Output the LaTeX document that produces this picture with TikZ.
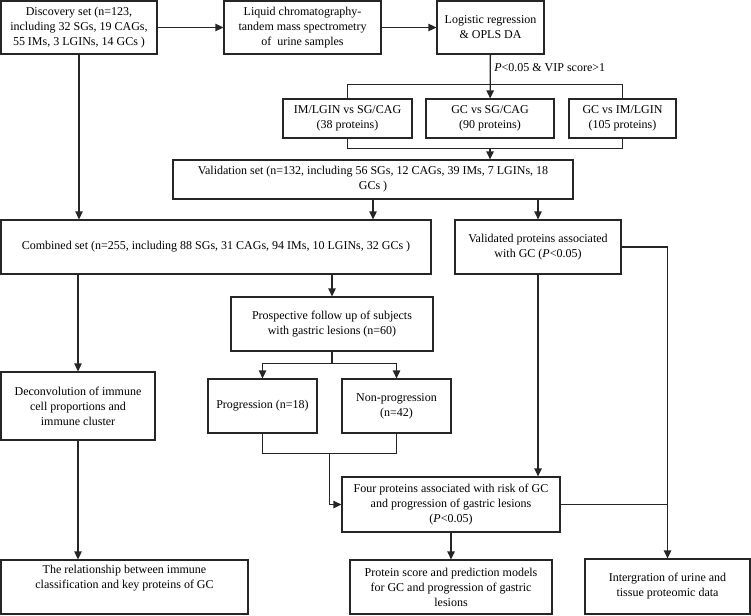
\documentclass[tikz,border=0pt]{standalone}
\usepackage{fontspec}
\setmainfont{Liberation Serif}
\usetikzlibrary{arrows.meta}

\begin{document}
\begin{tikzpicture}[->,>={Triangle[length=8pt,width=7.5pt]},x=1pt,y=-1pt,line width=1.3pt,draw=black!85]
    \tikzstyle{block}=[draw,rectangle,align=center,inner sep=0pt,font=\fontsize{12}{15}\selectfont]
    \useasboundingbox (0,0) rectangle (751,615);
    \node[block,minimum width=156,minimum height=53] (A) at (79,27.5) {Discovery set (n=123,\\ including 32 SGs, 19 CAGs,\\ 55 IMs, 3 LGINs, 14 GCs )};
    \node[block,minimum width=157,minimum height=53] (B) at (302.5,27.5) {Liquid chromatography-\\ tandem mass spectrometry\\ of\ \ urine samples};
    \node[block,minimum width=107,minimum height=53] (C) at (490.5,27.5) {Logistic regression\\ \& OPLS DA};
    \node[block,minimum width=129,minimum height=39] (D) at (347.5,118.5) {IM/LGIN vs SG/CAG\\ (38 proteins)};
    \node[block,minimum width=128,minimum height=39] (E) at (490,118.5) {GC vs SG/CAG\\ (90 proteins)};
    \node[block,minimum width=107,minimum height=39] (F) at (622.5,118.5) {GC vs IM/LGIN\\ (105 proteins)};
    \node[block,minimum width=400,minimum height=39] (G) at (373,179.5) {Validation set (n=132, including 56 SGs, 12 CAGs, 39 IMs, 7 LGINs, 18\\ GCs )};
    \node[block,minimum width=430,minimum height=54] (H) at (216,247) {Combined set (n=255, including 88 SGs, 31 CAGs, 94 IMs, 10 LGINs, 32 GCs )};
    \node[block,minimum width=166,minimum height=54] (I) at (538,247) {Validated proteins associated\\ with GC (\textit{P}<0.05)};
    \node[block,minimum width=202,minimum height=54] (J) at (332,324) {Prospective follow up of subjects\\ with gastric lesions (n=60)};
    \node[block,minimum width=109,minimum height=54] (K) at (262.5,406) {Progression (n=18)};
    \node[block,minimum width=109,minimum height=54] (L) at (396.5,406) {Non-progression\\ (n=42)};
    \node[block,minimum width=154,minimum height=68] (M) at (78,406) {Deconvolution of immune\\ cell proportions and\\ immune cluster};
    \node[block,minimum width=218,minimum height=55] (N) at (451,504.5) {Four proteins associated with risk of GC\\ and progression of gastric lesions\\ (\textit{P}<0.05)};
    \node[block,minimum width=202,minimum height=54] (O) at (451,587) {Protein score and prediction models\\ for GC and progression of gastric\\ lesions};
    \node[block,minimum width=165,minimum height=55] (P) at (667.5,586.5) {Intergration of urine and\\ tissue proteomic data};
    \node[block,minimum width=247,minimum height=54] (Q) at (124.5,587) {The relationship between immune\\ classification and key proteins of GC\\ \strut};
    \coordinate (X) at (329.5,453);

    \path (A) edge (B)
    (B) edge (C)
    (C) edge node[right,pos=0.3,font=\fontsize{12}{15}\selectfont] {\textit{P}<0.05 \& VIP score>1} (E)
    (N) edge (O);

    \draw[-] (D.north) -- ++(0,-14) -| (F.north);
    \draw[-] (D.south) -- ++(0,10) -| (F.south);
    \draw (E.south) ++(0,10) -- (E.south |- G.north);
    \draw (A.south) -- (A.south |- H.north);
    \draw (G.south) -- (G.south |- H.north);
    \draw (I.north |- G.south) -- (I.north);
    \draw (I.east) -| (P.north);
    \draw[-] (N.east) -- (N.east -| P.north);
    \draw (M.north |- H.south) -- (M.north);
    \draw (J.north |- H.south) -- (J.north);
    \draw (I.south) -- (I.south |- N.north);
    \draw[-] (J.south) -- ++(0,12) coordinate (Y);
    \draw (Y) -| (K.north);
    \draw (Y) -| (L.north);
    \draw[-] (K.south) -- ++(0,20) -| (L.south);
    \draw (X) |- (N.west);
    \draw (M.south) -- (M.south |- Q.north);
\end{tikzpicture}
\end{document}
